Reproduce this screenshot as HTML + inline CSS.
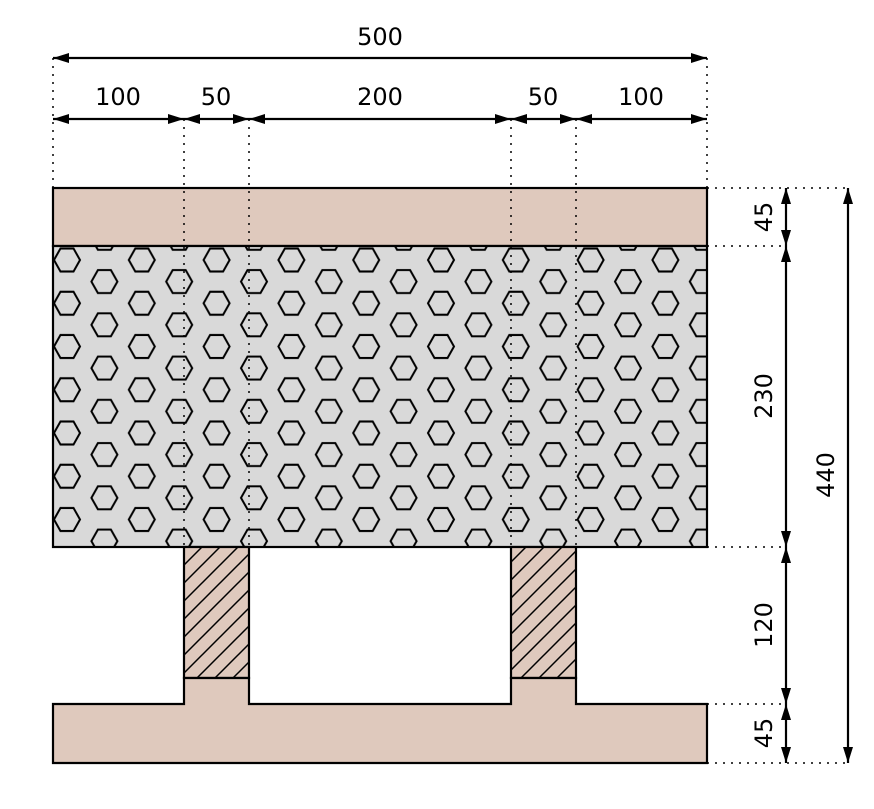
<!DOCTYPE html>
<html><head><style>
html,body{margin:0;padding:0;background:#fff;}
svg{display:block;}
text{font-family:"DejaVu Sans","Liberation Sans",sans-serif;font-size:24px;fill:#000;}
</style></head><body>
<svg width="874" height="809" viewBox="0 0 874 809" xmlns="http://www.w3.org/2000/svg">
<defs>
<pattern id="hex" patternUnits="userSpaceOnUse" x="67" y="260" width="74.8" height="43.25">
<rect width="74.8" height="43.25" fill="#d9d9d9"/>
<g fill="none" stroke="#000" stroke-width="2">
<polygon points="-13,0 -6.5,-11.5 6.5,-11.5 13,0 6.5,11.5 -6.5,11.5"/>
<polygon points="61.8,0 68.3,-11.5 81.3,-11.5 87.8,0 81.3,11.5 68.3,11.5"/>
<polygon points="-13,43.25 -6.5,31.75 6.5,31.75 13,43.25 6.5,54.75 -6.5,54.75"/>
<polygon points="61.8,43.25 68.3,31.75 81.3,31.75 87.8,43.25 81.3,54.75 68.3,54.75"/>
<polygon points="24.4,21.6 30.9,10.1 43.9,10.1 50.4,21.6 43.9,33.1 30.9,33.1"/>
</g>
</pattern>
<pattern id="hatch" patternUnits="userSpaceOnUse" x="184" y="547" width="18" height="18">
<rect width="18" height="18" fill="#dfc9bd"/>
<path d="M-2,20 L20,-2 M-2,2 L2,-2 M16,20 L20,16" stroke="#000" stroke-width="1.5"/>
</pattern>
<marker id="a" viewBox="0 0 16 10" refX="16" refY="5" markerWidth="16" markerHeight="10" markerUnits="userSpaceOnUse" orient="auto-start-reverse">
<path d="M0,0 L16,5 L0,10 z" fill="#000"/>
</marker>
</defs>

<rect x="53" y="188" width="654" height="58" fill="#dfc9bd" stroke="#000" stroke-width="2.2"/>
<rect x="53" y="246" width="654" height="301" fill="url(#hex)" stroke="#000" stroke-width="2.2"/>
<rect x="184" y="547" width="65" height="131" fill="url(#hatch)" stroke="#000" stroke-width="2.2"/>
<rect x="511" y="547" width="65" height="131" fill="url(#hatch)" stroke="#000" stroke-width="2.2"/>
<path d="M53,704 L184,704 L184,678 L249,678 L249,704 L511,704 L511,678 L576,678 L576,704 L707,704 L707,763 L53,763 Z" fill="#dfc9bd" stroke="#000" stroke-width="2.2"/>

<g stroke="#000" stroke-width="1.5" stroke-dasharray="2,6" fill="none">
<line x1="53" y1="58" x2="53" y2="188"/>
<line x1="707" y1="58" x2="707" y2="188"/>
<line x1="184" y1="119" x2="184" y2="547"/>
<line x1="249" y1="119" x2="249" y2="547"/>
<line x1="511" y1="119" x2="511" y2="547"/>
<line x1="576" y1="119" x2="576" y2="547"/>
<line x1="707" y1="188" x2="848" y2="188"/>
<line x1="707" y1="246" x2="786" y2="246"/>
<line x1="707" y1="547" x2="786" y2="547"/>
<line x1="707" y1="704" x2="786" y2="704"/>
<line x1="707" y1="763" x2="848" y2="763"/>
</g>

<g stroke="#000" stroke-width="2.2" fill="none">
<line x1="53" y1="58" x2="707" y2="58" marker-start="url(#a)" marker-end="url(#a)"/>
<line x1="53" y1="119" x2="184" y2="119" marker-start="url(#a)" marker-end="url(#a)"/>
<line x1="184" y1="119" x2="249" y2="119" marker-start="url(#a)" marker-end="url(#a)"/>
<line x1="249" y1="119" x2="511" y2="119" marker-start="url(#a)" marker-end="url(#a)"/>
<line x1="511" y1="119" x2="576" y2="119" marker-start="url(#a)" marker-end="url(#a)"/>
<line x1="576" y1="119" x2="707" y2="119" marker-start="url(#a)" marker-end="url(#a)"/>
<line x1="786" y1="188" x2="786" y2="246" marker-start="url(#a)" marker-end="url(#a)"/>
<line x1="786" y1="246" x2="786" y2="547" marker-start="url(#a)" marker-end="url(#a)"/>
<line x1="786" y1="547" x2="786" y2="704" marker-start="url(#a)" marker-end="url(#a)"/>
<line x1="786" y1="704" x2="786" y2="763" marker-start="url(#a)" marker-end="url(#a)"/>
<line x1="848" y1="188" x2="848" y2="763" marker-start="url(#a)" marker-end="url(#a)"/>
</g>

<g text-anchor="middle">
<text x="380" y="45">500</text>
<text x="118" y="105">100</text>
<text x="216" y="105">50</text>
<text x="380" y="105">200</text>
<text x="543" y="105">50</text>
<text x="641" y="105">100</text>
<text transform="translate(772,217) rotate(-90)">45</text>
<text transform="translate(772,396) rotate(-90)">230</text>
<text transform="translate(772,625) rotate(-90)">120</text>
<text transform="translate(772,733) rotate(-90)">45</text>
<text transform="translate(834,475) rotate(-90)">440</text>
</g>
</svg>
</body></html>
